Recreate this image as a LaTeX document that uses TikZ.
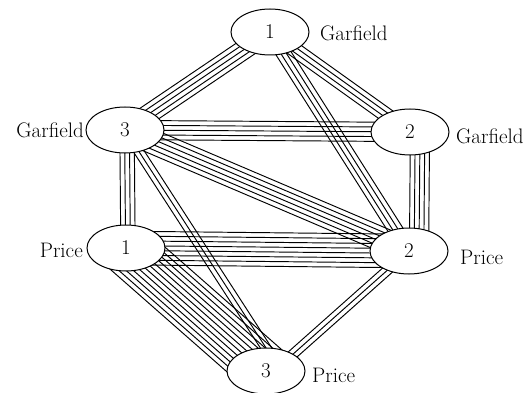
\documentclass[tikz,border=0pt]{standalone}
\usetikzlibrary{calc,backgrounds,shapes.geometric}
\newcommand{\mybundle}[5]{%
  \coordinate (ba) at ($(#1.center)+(#4)$);%
  \coordinate (bb) at ($(#2.center)+(#5)$);%
  \pgfmathsetmacro{\myhalf}{(#3-1)/2}%
  \foreach \i in {1,...,#3}{%
    \pgfmathsetmacro{\myoff}{(\i-1-\myhalf)*4.8}%
    \draw[bundleline] ($(ba)!\myoff pt!90:(bb)$) -- ($(bb)!\myoff pt!-90:(ba)$);
  }%
}
\tikzset{
  vert/.style={draw, line width=1pt, ellipse, fill=white, minimum width=78pt, minimum height=46pt, inner sep=0pt, font=\fontsize{21}{24}\selectfont},
  lab/.style={font=\fontsize{21}{24}\selectfont, inner sep=0pt},
  bundleline/.style={line width=0.95pt}
}
\begin{document}
\begin{tikzpicture}[x=1pt,y=-1pt]
\useasboundingbox (0,0) rectangle (530,393);
\node[vert] (g1) at (270,32) {1};
\node[vert] (g3) at (125,130) {3};
\node[vert] (g2) at (410,132) {2};
\node[vert] (p1) at (126,248) {1};
\node[vert] (p2) at (409,251) {2};
\node[vert] (p3) at (266,371) {3};
\node[lab, anchor=west] (lg1) at (320,33) {Garfield};
\node[lab, anchor=east] (lg3) at (84,130) {Garfield};
\node[lab, anchor=west] (lg2) at (456,136) {Garfield};
\node[lab, anchor=east] (lp1) at (83,250) {Price};
\node[lab, anchor=west] (lp2) at (460,257) {Price};
\node[lab, anchor=west] (lp3) at (312,375) {Price};
\begin{scope}[on background layer]
\mybundle{g1}{g3}{5}{0,0}{0,0}
\mybundle{g1}{g2}{4}{0,0}{0,0}
\mybundle{g1}{p2}{4}{0,0}{0,0}
\mybundle{g3}{g2}{5}{0,0}{0,0}
\mybundle{g3}{p2}{6}{0,0}{0,0}
\mybundle{g3}{p1}{4}{2,0}{2,0}
\mybundle{g3}{p3}{3}{0,0}{15,0}
\mybundle{g2}{p2}{5}{10,0}{10,0}
\mybundle{p1}{p2}{8}{0,0}{0,0}
\mybundle{p1}{p3}{12}{0,0}{0,0}
\mybundle{p2}{p3}{3}{0,0}{8,0}
\end{scope}
\end{tikzpicture}
\end{document}
